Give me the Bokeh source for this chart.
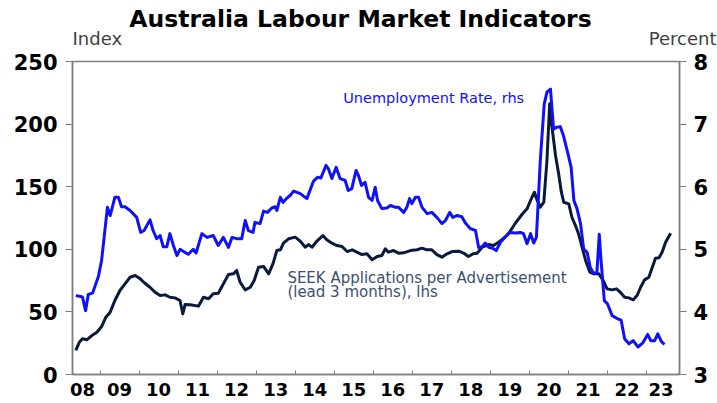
from bokeh.plotting import figure
from bokeh.models import Range1d, LinearAxis, FixedTicker, Label
from bokeh.layouts import column
from bokeh.core.properties import value
from bokeh.embed import file_html
from bokeh.resources import INLINE

# ---------------- data ----------------
ur_year = [2008.38, 2008.47, 2008.55, 2008.63, 2008.70, 2008.81, 2008.96, 2009.04, 2009.19, 2009.26,
           2009.32, 2009.38, 2009.47, 2009.55, 2009.64, 2009.77, 2009.94, 2010.04, 2010.13, 2010.28,
           2010.36, 2010.45, 2010.54, 2010.62, 2010.71, 2010.79, 2010.88, 2010.97, 2011.05, 2011.18,
           2011.26, 2011.39, 2011.46, 2011.61, 2011.74, 2011.90, 2012.03, 2012.16, 2012.29, 2012.38,
           2012.50, 2012.63, 2012.72, 2012.80, 2012.92, 2012.97, 2013.10, 2013.19, 2013.29, 2013.40,
           2013.49, 2013.53, 2013.62, 2013.69, 2013.79, 2013.87, 2013.96, 2014.13, 2014.30, 2014.47,
           2014.57, 2014.66, 2014.79, 2014.85, 2014.94, 2015.05, 2015.15, 2015.28, 2015.36, 2015.45,
           2015.56, 2015.62, 2015.70, 2015.79, 2015.88, 2015.97, 2016.05, 2016.11, 2016.22, 2016.35,
           2016.44, 2016.57, 2016.65, 2016.78, 2016.86, 2016.93, 2016.99, 2017.08, 2017.16, 2017.25,
           2017.38, 2017.50, 2017.63, 2017.76, 2017.85, 2017.96, 2018.04, 2018.15, 2018.27, 2018.36,
           2018.49, 2018.62, 2018.70, 2018.79, 2018.87, 2018.96, 2019.08, 2019.15, 2019.26, 2019.38,
           2019.51, 2019.64, 2019.77, 2019.85, 2019.94, 2020.03, 2020.11, 2020.18, 2020.28, 2020.38,
           2020.45, 2020.54, 2020.62, 2020.70, 2020.79, 2020.87, 2020.98, 2021.07, 2021.14, 2021.22,
           2021.31, 2021.39, 2021.48, 2021.56, 2021.65, 2021.73, 2021.79, 2021.83, 2021.92, 2022.00,
           2022.12, 2022.26, 2022.35, 2022.44, 2022.55, 2022.66, 2022.78, 2022.90, 2023.03, 2023.11,
           2023.21, 2023.29, 2023.38, 2023.46]
ur_pct = [4.26, 4.25, 4.24, 4.02, 4.28, 4.30, 4.57, 4.82, 5.67, 5.54,
          5.68, 5.83, 5.83, 5.68, 5.68, 5.62, 5.51, 5.27, 5.30, 5.47,
          5.30, 5.17, 5.22, 5.04, 5.04, 5.25, 5.06, 4.90, 5.00, 4.95,
          4.92, 5.00, 4.94, 5.25, 5.19, 5.22, 5.06, 5.19, 5.03, 5.19,
          5.17, 5.17, 5.46, 5.30, 5.27, 5.43, 5.41, 5.61, 5.59, 5.66,
          5.68, 5.62, 5.83, 5.75, 5.82, 5.86, 5.93, 5.89, 5.81, 6.09,
          6.15, 6.14, 6.34, 6.29, 6.13, 6.31, 6.13, 6.10, 5.94, 5.97,
          6.26, 6.18, 6.02, 6.07, 5.83, 5.78, 5.99, 5.78, 5.65, 5.66,
          5.70, 5.67, 5.67, 5.59, 5.67, 5.81, 5.73, 5.83, 5.83, 5.67,
          5.57, 5.59, 5.51, 5.41, 5.46, 5.59, 5.51, 5.54, 5.52, 5.42,
          5.33, 5.30, 5.03, 5.04, 5.10, 5.03, 5.01, 4.98, 5.11, 5.20,
          5.27, 5.26, 5.27, 5.25, 5.09, 5.25, 5.10, 5.19, 6.42, 7.32,
          7.51, 7.56, 6.92, 6.95, 6.96, 6.82, 6.55, 6.31, 5.78, 5.65,
          5.41, 5.01, 4.95, 4.71, 4.61, 4.63, 5.24, 4.87, 4.18, 4.13,
          3.94, 3.89, 3.87, 3.57, 3.49, 3.54, 3.44, 3.50, 3.64, 3.54,
          3.54, 3.65, 3.53, 3.48]

seek_year = [2008.38, 2008.47, 2008.55, 2008.66, 2008.79, 2008.92, 2009.04, 2009.15, 2009.26, 2009.38,
             2009.51, 2009.64, 2009.77, 2009.90, 2010.03, 2010.15, 2010.28, 2010.41, 2010.54, 2010.67,
             2010.79, 2010.92, 2011.05, 2011.12, 2011.18, 2011.31, 2011.52, 2011.65, 2011.78, 2011.90,
             2012.03, 2012.16, 2012.29, 2012.42, 2012.50, 2012.59, 2012.72, 2012.85, 2012.95, 2013.06,
             2013.19, 2013.32, 2013.43, 2013.53, 2013.62, 2013.70, 2013.83, 2014.00, 2014.13, 2014.26,
             2014.34, 2014.43, 2014.57, 2014.71, 2014.81, 2014.94, 2015.07, 2015.20, 2015.33, 2015.46,
             2015.58, 2015.71, 2015.84, 2015.97, 2016.10, 2016.22, 2016.31, 2016.39, 2016.52, 2016.65,
             2016.78, 2016.95, 2017.12, 2017.25, 2017.37, 2017.50, 2017.63, 2017.76, 2017.89, 2018.02,
             2018.19, 2018.32, 2018.44, 2018.56, 2018.66, 2018.79, 2018.96, 2019.08, 2019.21, 2019.38,
             2019.51, 2019.64, 2019.81, 2019.94, 2020.03, 2020.13, 2020.20, 2020.28, 2020.37, 2020.45,
             2020.52, 2020.58, 2020.67, 2020.75, 2020.82, 2020.88, 2021.01, 2021.09, 2021.18, 2021.26,
             2021.35, 2021.44, 2021.55, 2021.65, 2021.78, 2021.89, 2021.99, 2022.12, 2022.23, 2022.33,
             2022.44, 2022.55, 2022.66, 2022.76, 2022.85, 2022.95, 2023.06, 2023.15, 2023.23, 2023.32,
             2023.40, 2023.49, 2023.62]
seek_index = [19.2, 25.8, 28.5, 27.7, 31.1, 33.8, 38.3, 45.8, 49.8, 59.1,
              67.1, 72.4, 77.7, 79.1, 76.4, 72.9, 69.7, 65.7, 63.1, 63.6,
              61.7, 61.2, 59.1, 48.5, 55.9, 55.7, 54.6, 61.7, 60.5, 64.5,
              64.9, 72.4, 79.9, 80.4, 83.1, 73.7, 67.6, 69.7, 75.1, 85.7,
              86.3, 80.4, 88.4, 99.0, 99.6, 104.9, 108.4, 109.7, 106.5, 101.7,
              103.8, 101.7, 107.0, 111.0, 107.6, 104.9, 103.0, 102.2, 98.2, 99.6,
              97.7, 95.8, 96.4, 91.6, 94.2, 95.0, 100.4, 97.7, 99.0, 96.9,
              97.2, 99.0, 99.6, 100.9, 99.6, 99.6, 95.8, 93.7, 96.4, 98.2,
              98.5, 96.9, 94.2, 96.4, 96.9, 101.7, 103.8, 103.0, 105.7, 109.7,
              114.5, 120.8, 127.8, 132.3, 139.0, 145.6, 139.0, 133.6, 137.6, 170.9,
              216.2, 197.5, 174.9, 160.3, 145.6, 137.6, 136.3, 125.6, 119.0, 112.4,
              101.7, 91.1, 81.7, 80.4, 80.4, 75.1, 68.4, 67.6, 68.4, 65.7,
              61.7, 61.2, 59.7, 63.1, 69.7, 75.6, 77.7, 85.7, 92.9, 93.2,
              97.7, 105.7, 112.9]

x_label_pos = [2008.55, 2009.5, 2010.5, 2011.5, 2012.5, 2013.5, 2014.5, 2015.5, 2016.5,
               2017.5, 2018.5, 2019.5, 2020.5, 2021.5, 2022.5, 2023.37]
x_labels = ["08", "09", "10", "11", "12", "13", "14", "15", "16",
            "17", "18", "19", "20", "21", "22", "23"]
year_bounds = [2009, 2010, 2011, 2012, 2013, 2014, 2015, 2016, 2017, 2018, 2019,
               2020, 2021, 2022, 2023]
left_ticks = [0, 50, 100, 150, 200, 250]
right_ticks = [3, 4, 5, 6, 7, 8]

title_text = "Australia Labour Market Indicators"
left_unit = "Index"
right_unit = "Percent"

# ---------------- styling ----------------
BLUE = "#1010ff"
NAVY = "#0b1a3c"
AXIS = "#7f7f7f"
FONT = "DejaVu Sans"
W = 717
HEAD_H = 49

# ---------------- header (title + unit labels) ----------------
h = figure(width=W, height=HEAD_H, output_backend="svg", toolbar_location=None,
           x_range=Range1d(0, W), y_range=Range1d(0, HEAD_H),
           x_axis_type=None, y_axis_type=None,
           min_border_left=0, min_border_right=0, min_border_top=0, min_border_bottom=0)
h.title = None
h.frame_align = False
h.grid.visible = False
h.outline_line_color = None
# y values give the bottom of each text box (baseline + descent)
h.text(x=[360], y=[HEAD_H - 32.0], text=[title_text], text_font=value(FONT),
       text_font_size="23.5px", text_font_style="bold", text_color="black",
       text_align="center", text_baseline="bottom")
h.text(x=[72], y=[0.8], text=[left_unit], text_font=value(FONT),
       text_font_size="18px", text_color="#404040",
       text_align="left", text_baseline="bottom")
h.text(x=[716], y=[0.8], text=[right_unit], text_font=value(FONT),
       text_font_size="18px", text_color="#404040",
       text_align="right", text_baseline="bottom")

# ---------------- main chart ----------------
p = figure(width=W, height=403 - HEAD_H, output_backend="svg", toolbar_location=None,
           x_range=Range1d(2008.295, 2023.846), y_range=Range1d(0, 250),
           min_border_left=72, min_border_right=38, min_border_top=61 - HEAD_H,
           min_border_bottom=29)
p.title = None
p.frame_align = False
p.extra_y_ranges = {"pct": Range1d(3, 8)}
p.grid.visible = False
p.outline_line_color = AXIS
p.outline_line_width = 1.5

# x axis
xa = p.xaxis[0]
xa.ticker = FixedTicker(ticks=x_label_pos, minor_ticks=year_bounds)
xa.major_label_overrides = {pos: lab for pos, lab in zip(x_label_pos, x_labels)}
xa.major_tick_in = 0
xa.major_tick_out = 0
xa.minor_tick_in = 4
xa.minor_tick_out = 0
xa.minor_tick_line_color = AXIS
xa.axis_line_color = AXIS
xa.axis_line_width = 1.5
xa.major_label_text_font = FONT
xa.major_label_text_font_style = "bold"
xa.major_label_text_font_size = "18px"
xa.major_label_text_color = "black"
xa.major_label_standoff = 8

# left axis
ya = p.yaxis[0]
ya.ticker = FixedTicker(ticks=left_ticks)
ya.major_tick_in = 0
ya.major_tick_out = 7
ya.minor_tick_line_color = None
ya.major_tick_line_color = AXIS
ya.axis_line_color = AXIS
ya.axis_line_width = 1.5
ya.major_label_text_font = FONT
ya.major_label_text_font_style = "bold"
ya.major_label_text_font_size = "21px"
ya.major_label_text_color = "black"
ya.major_label_standoff = 8

# right axis
ra = LinearAxis(y_range_name="pct", ticker=FixedTicker(ticks=right_ticks))
ra.major_tick_in = 0
ra.major_tick_out = 7
ra.minor_tick_line_color = None
ra.major_tick_line_color = AXIS
ra.axis_line_color = AXIS
ra.axis_line_width = 1.5
ra.major_label_text_font = FONT
ra.major_label_text_font_style = "bold"
ra.major_label_text_font_size = "21px"
ra.major_label_text_color = "black"
ra.major_label_standoff = 7
p.add_layout(ra, "right")

# series
p.line(seek_year, seek_index, line_color=NAVY, line_width=3, line_join="round")
p.line(ur_year, ur_pct, y_range_name="pct", line_color=BLUE, line_width=3, line_join="round")

# in-chart annotations (y = bottom of text box)
def lab(x, y, text, size, color):
    p.add_layout(Label(x=x, y=y, text=text, text_font=FONT, text_font_size=size,
                       text_color=color, text_align="left", text_baseline="bottom"))

lab(2015.23, 214.8, "Unemployment Rate, rhs", "14.5px", BLUE)
lab(2013.80, 69.9, "SEEK Applications per Advertisement", "15px", "#3b5070")
lab(2013.80, 58.7, "(lead 3 months), lhs", "15px", "#3b5070")

layout = column(h, p, spacing=0)
open("out.html", "w").write(file_html(layout, INLINE))
